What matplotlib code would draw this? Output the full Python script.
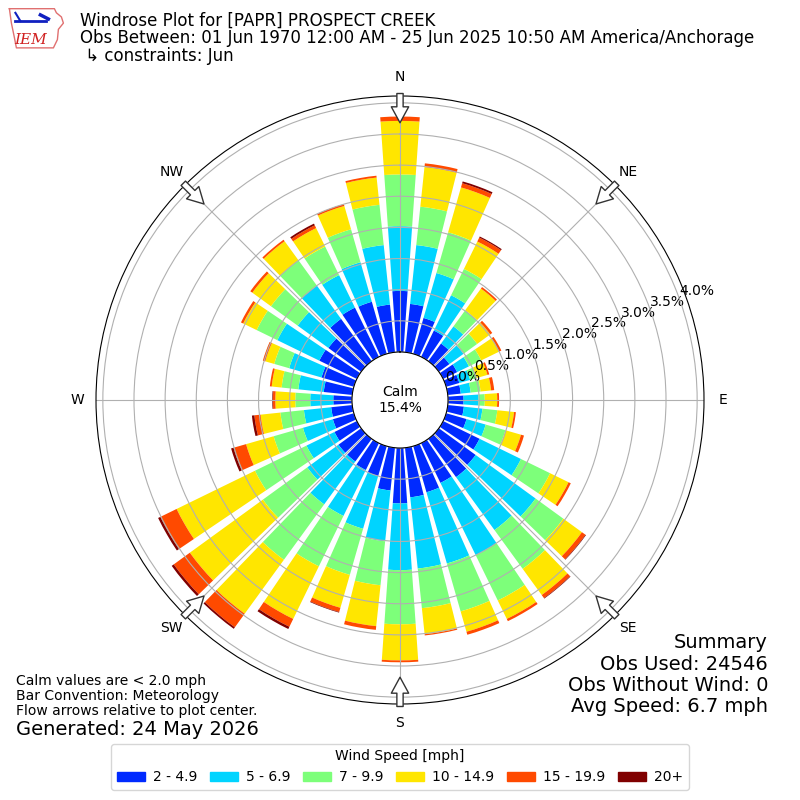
import numpy as np
import matplotlib
matplotlib.use("Agg")
import matplotlib.pyplot as plt
from matplotlib.patches import Patch, ArrowStyle

# direction bins (degrees, from north clockwise)
directions = np.arange(0, 360, 10)

# percent of obs per direction bin, one list per speed class
speed_labels = ["2 - 4.9", "5 - 6.9", "7 - 9.9", "10 - 14.9", "15 - 19.9", "20+"]
speed_colors = ["#002aff", "#00d4ff", "#7dff7a", "#ffe600", "#ff4a00", "#800000"]

pct_2_5 = [0.98, 0.78, 0.60, 0.47, 0.35, 0.21, 0.25, 0.22, 0.21, 0.25,
           0.26, 0.34, 0.65, 0.73, 0.76, 0.71, 0.77, 0.80, 0.89, 0.69,
           0.50, 0.48, 0.45, 0.45, 0.40, 0.35, 0.34, 0.30, 0.46, 0.54,
           0.67, 0.65, 0.84, 0.88, 0.87, 0.77]
pct_5_7 = [1.04, 0.95, 0.75, 0.63, 0.34, 0.28, 0.21, 0.18, 0.16, 0.24,
           0.30, 0.32, 0.74, 1.19, 1.05, 1.29, 1.19, 1.15, 1.07, 0.82,
           0.88, 0.82, 0.85, 0.62, 0.50, 0.50, 0.44, 0.37, 0.41, 0.54,
           0.75, 0.61, 0.66, 0.58, 0.66, 0.96]
pct_7_10 = [0.83, 0.62, 0.68, 0.47, 0.32, 0.27, 0.22, 0.11, 0.16, 0.10,
            0.24, 0.33, 0.52, 0.55, 0.77, 0.81, 0.80, 0.64, 0.87, 0.71,
            0.77, 0.90, 1.10, 0.88, 0.92, 0.49, 0.38, 0.24, 0.27, 0.25,
            0.37, 0.53, 0.50, 0.51, 0.55, 0.65]
pct_10_15 = [0.86, 0.64, 0.75, 0.49, 0.43, 0.26, 0.32, 0.18, 0.17, 0.20,
             0.27, 0.26, 0.33, 0.37, 0.52, 0.33, 0.34, 0.42, 0.58, 0.66,
             0.55, 0.94, 1.07, 1.45, 1.40, 0.46, 0.32, 0.32, 0.16, 0.15,
             0.24, 0.37, 0.38, 0.33, 0.39, 0.44]
pct_15_20 = [0.07, 0.06, 0.07, 0.07, 0.03, 0.04, 0.04, 0.03, 0.05, 0.03,
             0.03, 0.05, 0.04, 0.07, 0.06, 0.04, 0.05, 0.02, 0.03, 0.06,
             0.07, 0.14, 0.27, 0.32, 0.29, 0.21, 0.10, 0.04, 0.03, 0.04,
             0.04, 0.04, 0.03, 0.05, 0.03, 0.03]
pct_20p = [0.00, 0.00, 0.03, 0.02, 0.00, 0.00, 0.00, 0.00, 0.00, 0.00,
           0.00, 0.00, 0.00, 0.01, 0.01, 0.00, 0.00, 0.00, 0.00, 0.00,
           0.01, 0.04, 0.03, 0.04, 0.04, 0.04, 0.04, 0.01, 0.00, 0.00,
           0.00, 0.00, 0.00, 0.03, 0.00, 0.00]

calm_pct = 15.4
ring_values = [0.0, 0.5, 1.0, 1.5, 2.0, 2.5, 3.0, 3.5, 4.0]
compass = ["N", "NE", "E", "SE", "S", "SW", "W", "NW"]

fig = plt.figure(figsize=(8, 8), dpi=100)
ax = fig.add_axes([0.12, 0.12, 0.76, 0.76], projection="polar")
ax.set_theta_zero_location("N")
ax.set_theta_direction(-1)

rmax = 4.11
ax.set_ylim(0, rmax)
ax.set_rorigin(-0.771)

theta = np.deg2rad(directions)
width = np.deg2rad(8)
bottom = np.zeros(len(directions))
series = [pct_2_5, pct_5_7, pct_7_10, pct_10_15, pct_15_20, pct_20p]
for vals, color in zip(series, speed_colors):
    vals = np.array(vals)
    ax.bar(theta, vals, width=width, bottom=bottom, color=color,
           edgecolor="none", align="center")
    bottom += vals

ax.set_rgrids(ring_values, labels=["%.1f%%" % v for v in ring_values],
              angle=70, fontsize=10)
ax.set_xticks(np.deg2rad(np.arange(0, 360, 45)))
ax.set_xticklabels(compass, fontsize=10)
ax.tick_params(axis="x", pad=3)
ax.grid(True, color="#b0b0b0", lw=0.8)

# calm label in the hole
ax.text(0, -0.771, "Calm\n%.1f%%" % calm_pct, ha="center", va="center",
        fontsize=10)

# flow arrows at the compass points
style = ArrowStyle.Simple(head_length=11.5, head_width=12.5, tail_width=4.5)
for ang in np.arange(0, 360, 45):
    t = np.deg2rad(ang)
    ax.annotate("", xy=(t, 3.68), xytext=(t, 4.15),
                arrowprops=dict(arrowstyle=style, mutation_scale=1,
                                fc="white", ec="#333333", lw=1,
                                shrinkA=0, shrinkB=0))

# header
fig.text(0.1, 0.985, "Windrose Plot for [PAPR] PROSPECT CREEK\n"
         "Obs Between: 01 Jun 1970 12:00 AM - 25 Jun 2025 10:50 AM America/Anchorage\n"
         " \u21b3 constraints: Jun", ha="left", va="top", fontsize=12,
         linespacing=0.95)

# simple IEM logo
lax = fig.add_axes([0.008, 0.935, 0.075, 0.058])
lax.set_xlim(0, 60)
lax.set_ylim(0, 45)
lax.axis("off")
iowa_x = [3, 48, 50, 55, 57, 52, 51, 47, 10, 8, 5, 3]
iowa_y = [42, 42, 38, 34, 28, 22, 12, 4, 4, 14, 28, 42]
lax.plot(iowa_x, iowa_y, color="#e07070", lw=1)
lax.plot([9, 40], [30, 30], color="#1020c0", lw=2)
lax.plot([9, 14], [38, 30], color="#1020c0", lw=1.5)
lax.plot([34, 42], [36, 32], color="#1020c0", lw=2.5)
lax.text(8, 8, "IEM", color="#d02020", fontsize=11, family="DejaVu Serif",
         style="italic")

# footer notes
fig.text(0.02, 0.1025, "Calm values are < 2.0 mph\nBar Convention: Meteorology\n"
         "Flow arrows relative to plot center.", ha="left", va="bottom",
         fontsize=10, linespacing=1.1)
fig.text(0.02, 0.076, "Generated: 24 May 2026", ha="left", va="bottom",
         fontsize=14)
fig.text(0.96, 0.105, "Summary\nObs Used: 24546\nObs Without Wind: 0\n"
         "Avg Speed: 6.7 mph", ha="right", va="bottom", fontsize=14,
         linespacing=1.15)

handles = [Patch(color=c, label=l) for c, l in zip(speed_colors, speed_labels)]
fig.legend(handles=handles, loc="lower center", ncol=6,
           bbox_to_anchor=(0.5, 0.004), title="Wind Speed [mph]",
           fontsize=10, title_fontsize=10, columnspacing=0.9,
           handletextpad=0.6)

fig.savefig("out.png", dpi=100)
